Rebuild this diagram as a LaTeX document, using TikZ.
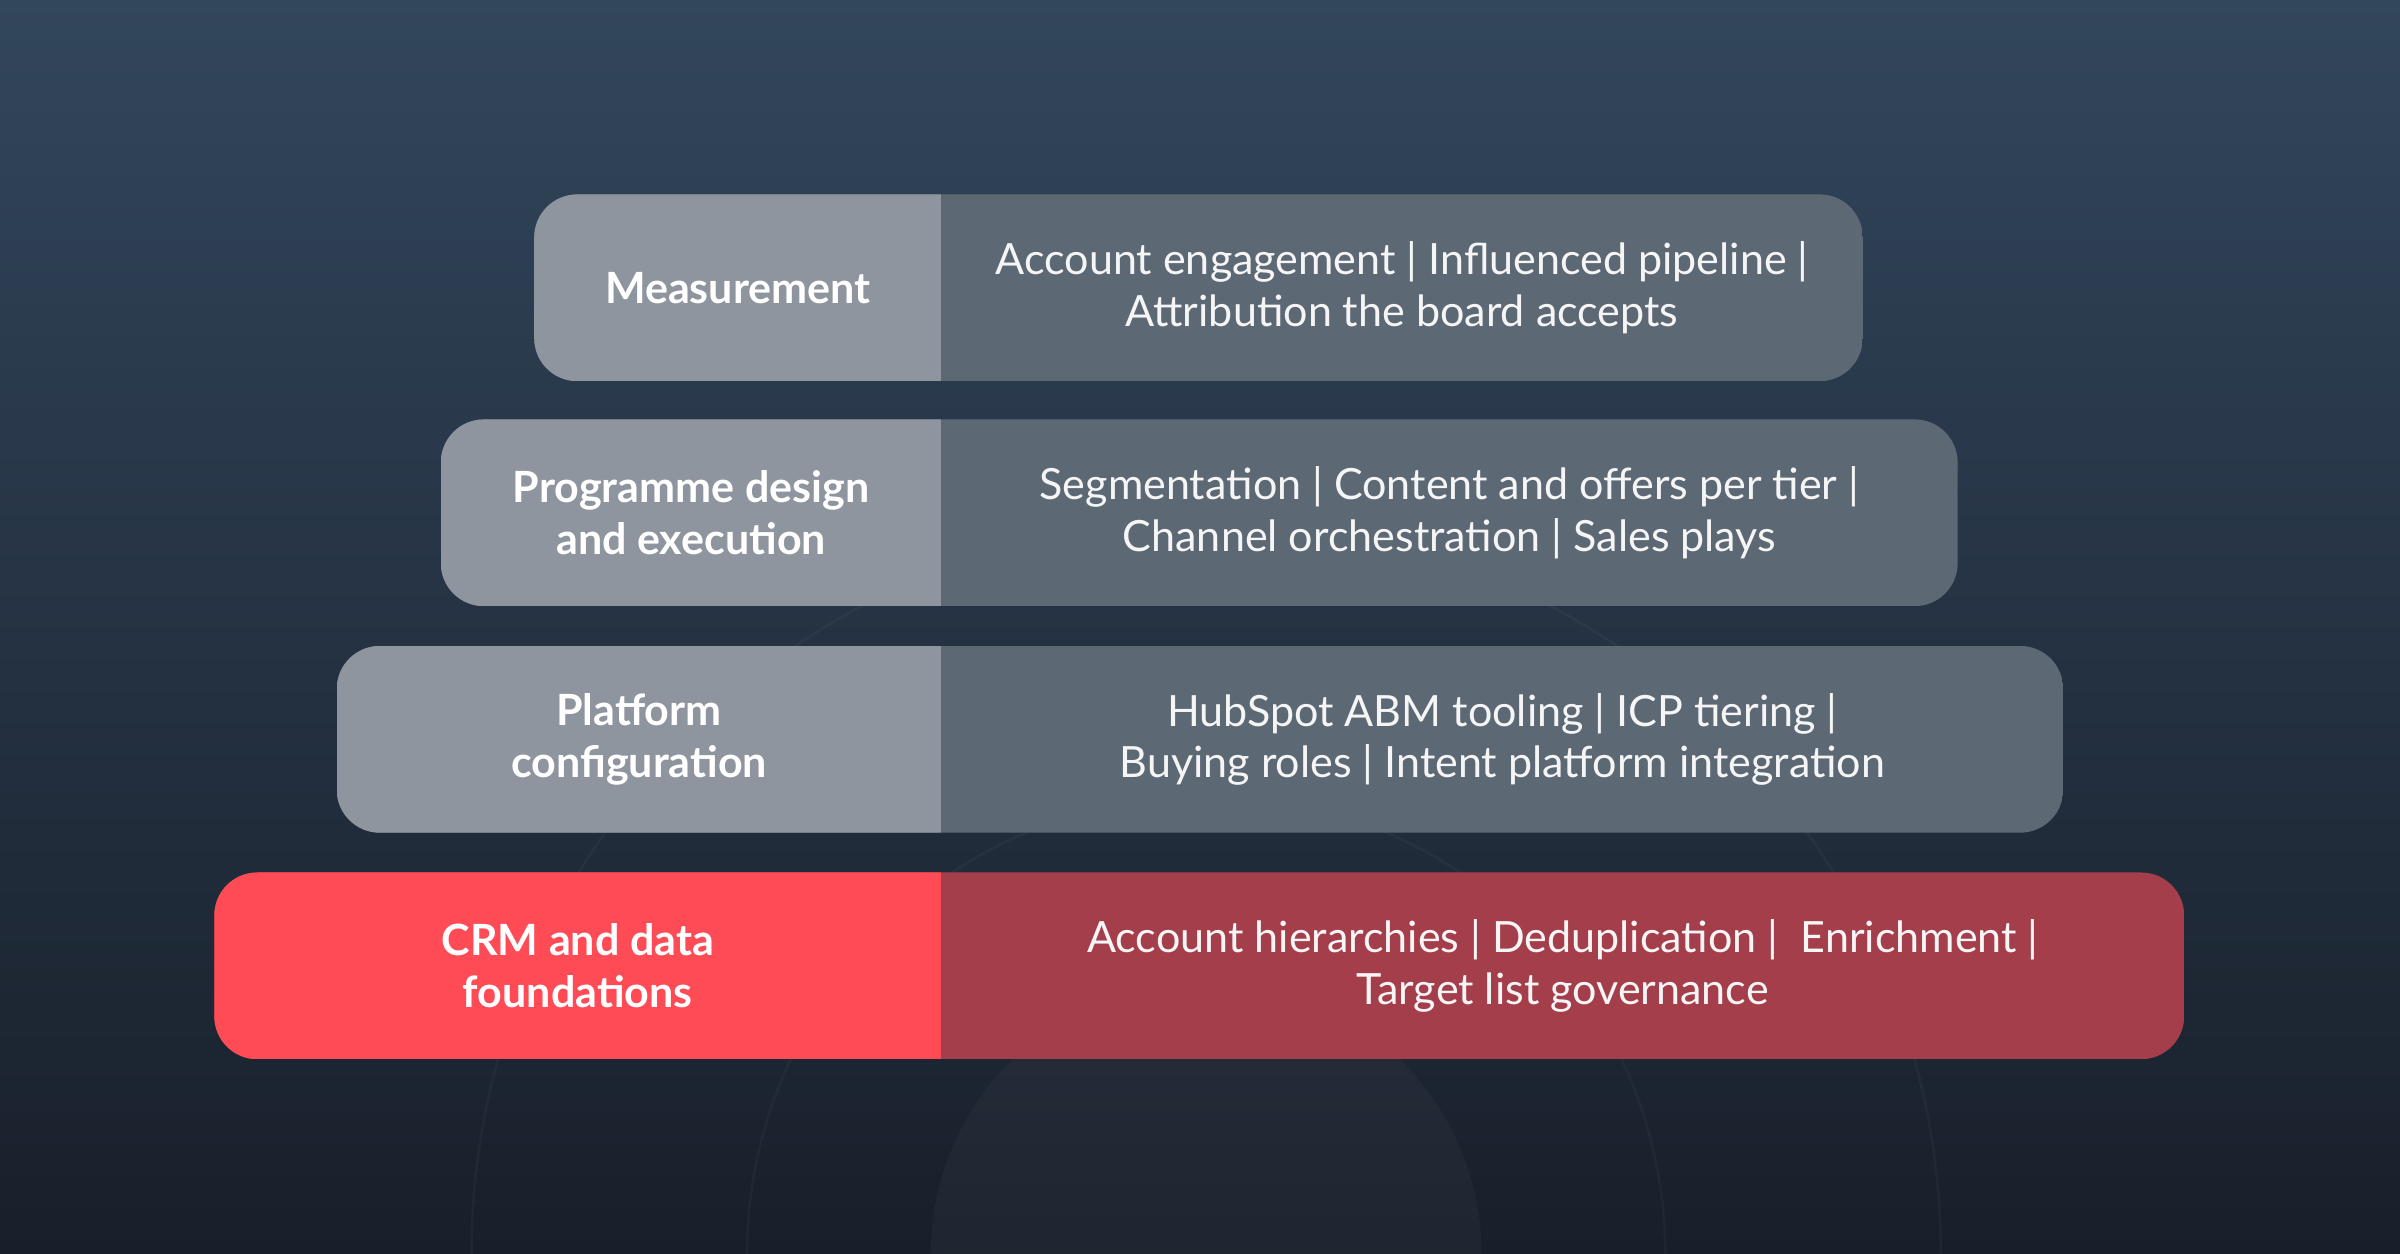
\documentclass[tikz,border=0pt]{standalone}
\usepackage{fontspec}
\setmainfont{Lato}
\usetikzlibrary{positioning}
\definecolor{bgtop}{RGB}{50,70,92}
\definecolor{bgbot}{RGB}{24,31,42}
\definecolor{tiergray}{RGB}{142,149,158}
\definecolor{tierslate}{RGB}{93,104,117}
\definecolor{tierred}{RGB}{255,75,85}
\definecolor{tierwine}{RGB}{165,62,75}
\tikzset{
  tierlabel/.style={text=white, align=center, font=\fontsize{8}{9.6}\selectfont\bfseries},
  tiertext/.style={text=white!92!gray, align=center, font=\fontsize{8}{9.6}\selectfont},
}
\begin{document}
\begin{tikzpicture}
% Background
\shade[top color=bgtop, bottom color=bgbot] (0,0) rectangle (15.68,-8.19);
\useasboundingbox (0,0) rectangle (15.68,-8.19);
\begin{scope}
\clip (0,0) rectangle (15.68,-8.19);
\fill[white, opacity=0.03] (7.88,-8.2) circle (1.8);
\draw[white, opacity=0.03, line width=0.5pt] (7.88,-8.2) circle (3.0);
\draw[white, opacity=0.03, line width=0.5pt] (7.88,-8.2) circle (4.8);
\end{scope}
% Tiers: top/xleft/xright/left colour/right colour/name/label/text
\foreach \top/\xl/\xr/\colL/\colR/\nm/\lab/\txt in {
  1.27/3.49/12.17/tiergray/tierslate/meas/{Measurement}/{Account engagement | Influenced pipeline |\\Attribution the board accepts},
  2.74/2.88/12.79/tiergray/tierslate/prog/{Programme design\\and execution}/{Segmentation | Content and offers per tier |\\Channel orchestration | Sales plays},
  4.22/2.20/13.48/tiergray/tierslate/plat/{Platform\\configuration}/{HubSpot ABM tooling | ICP tiering |\\Buying roles | Intent platform integration},
  5.70/1.40/14.27/tierred/tierwine/crm/{CRM and data\\foundations}/{Account hierarchies | Deduplication |\ \ Enrichment |\\Target list governance}} {
  \begin{scope}
    \clip[rounded corners=8pt] (\xl,-\top) rectangle (\xr,-\top-1.22);
    \fill[\colR] (\xl,-\top) rectangle (\xr,-\top-1.22);
    \fill[\colL] (\xl,-\top) rectangle (6.15,-\top-1.22);
  \end{scope}
  \node[tierlabel] (\nm-l) at ({(\xl+6.15)/2},-\top-0.61) {\lab};
  \node[tiertext] (\nm-r) at ({(\xr+6.15)/2},-\top-0.61) {\txt};
}
\end{tikzpicture}
\end{document}
